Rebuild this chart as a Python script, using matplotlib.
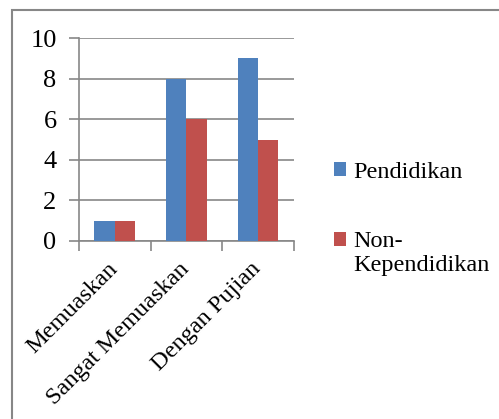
import matplotlib
matplotlib.use("Agg")
import matplotlib.pyplot as plt
from matplotlib.patches import Rectangle
import numpy as np

categories = ["Memuaskan", "Sangat Memuaskan", "Dengan Pujian"]
pendidikan = [1, 8, 9]
non_kependidikan = [1, 6, 5]
series_names = ["Pendidikan", "Non-", "Kependidikan"]

blue = "#4F81BD"
red = "#C0504D"
grey = "#878787"

plt.rcParams["font.family"] = ["Liberation Serif", "DejaVu Serif"]

fig = plt.figure(figsize=(4.99, 4.19), dpi=100)
ax = fig.add_axes([0.158, 0.425, 0.431, 0.484])

x = np.arange(len(categories))
w = 0.285
ax.bar(x - w / 2, pendidikan, w, color=blue, label=series_names[0], zorder=3)
ax.bar(x + w / 2, non_kependidikan, w, color=red, label=series_names[1], zorder=3)

ax.set_xlim(-0.5, len(categories) - 0.5)
ax.set_ylim(0, 10)
ax.set_yticks(range(0, 11, 2))
ax.tick_params(axis="y", length=7, width=1.2, color=grey, labelsize=19, pad=9)
ax.yaxis.grid(True, color=grey, linewidth=1.2, zorder=0)

# category ticks sit on the boundaries between groups
ax.set_xticks(np.arange(-0.5, len(categories), 1.0))
ax.set_xticklabels([])
ax.tick_params(axis="x", length=7, width=1.2, color=grey)
for i, name in enumerate(categories):
    ax.annotate(name, xy=(i, 0), xycoords=("data", "axes fraction"),
                xytext=(0, -18), textcoords="offset points",
                rotation=45, rotation_mode="anchor", ha="right", va="center",
                fontsize=17.5)

for side in ["top", "right"]:
    ax.spines[side].set_visible(False)
ax.spines["left"].set_color(grey)
ax.spines["left"].set_linewidth(1.2)
ax.spines["bottom"].set_color(grey)
ax.spines["bottom"].set_linewidth(1.2)

leg = fig.legend(loc="upper left", bbox_to_anchor=(0.65, 0.637), frameon=False,
                 fontsize=17.5, handlelength=0.5, handleheight=0.5,
                 handletextpad=0.3, labelspacing=2.0, borderaxespad=0)

# second line of the red entry, under "Non-"
fig.canvas.draw()
tb = leg.get_texts()[1].get_window_extent().transformed(fig.transFigure.inverted())
fig.text(tb.x0, tb.y0 - 0.005, series_names[2], fontsize=17.5, va="top", ha="left")

# outer chart border
fig.add_artist(Rectangle((0.025, -0.1), 1.1, 1.076, transform=fig.transFigure,
                         fill=False, edgecolor=grey, linewidth=1.5))

fig.savefig("out.png", dpi=100)
